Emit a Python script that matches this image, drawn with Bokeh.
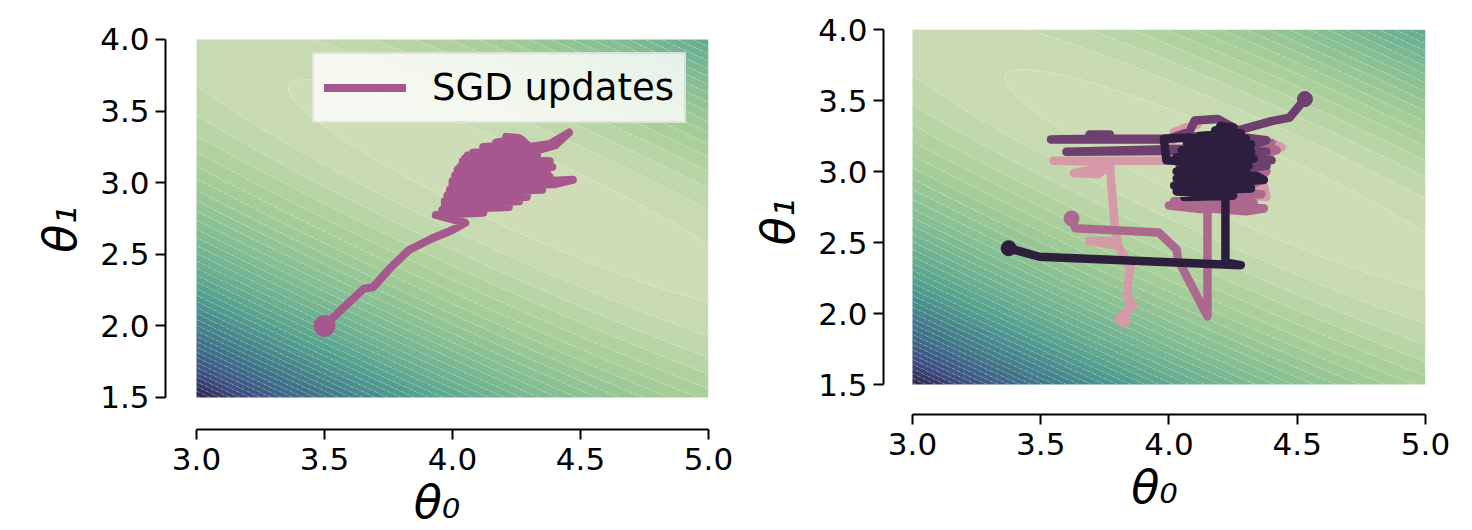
import numpy as np
from bokeh.plotting import figure
from bokeh.layouts import row
from bokeh.models import Range1d, PrintfTickFormatter
from bokeh.embed import file_html
from bokeh.resources import INLINE

# ---------------- loss surface (MSE of a linear regression) ----------------
theta0_opt = 4.30
theta1_opt = 2.92
mean_x = 1.09
mean_x2 = 1.385
noise_var = 1.0
theta0_lim = [3.0, 5.0]
theta1_lim = [1.5, 4.0]
n_levels = 40
first_level = 0.126

# colormap anchors (position in [0,1] -> colour), light = low loss
cmap_pos = [0.00, 0.03, 0.13, 0.25, 0.43, 0.50, 0.62, 0.75, 0.87, 1.00]
cmap_colors = ["#d0deb8", "#c6dab0", "#a9cf99", "#8cc293", "#63ab90",
               "#54a08f", "#45868c", "#3f6a88", "#3d4d82", "#2e2046"]

x_ticks = [3.0, 3.5, 4.0, 4.5, 5.0]
y_ticks = [1.5, 2.0, 2.5, 3.0, 3.5, 4.0]

# ---------------- left panel: one SGD run ----------------
sgd_theta0 = [3.50, 3.57, 3.654, 3.69, 3.76, 3.83, 3.92, 4.00, 4.05,
              3.935, 4.12, 3.96, 4.22, 3.97, 4.26, 3.98, 4.29, 3.99, 4.35, 4.00,
              4.40, 4.47, 4.36, 4.00, 4.38, 4.01, 4.37, 4.02, 4.39, 4.04, 4.38,
              4.05, 4.33, 4.08, 4.30, 4.12, 4.28, 4.17, 4.26, 4.21, 4.27, 4.30,
              4.38, 4.455, 4.40, 4.32,
              4.06, 4.32, 4.04, 4.35, 4.03, 4.33, 4.02, 4.30, 4.01, 4.33, 4.00,
              4.30, 3.99, 4.25, 3.98, 4.22, 3.97, 4.15, 4.10, 4.20, 4.15]
sgd_theta1 = [2.00, 2.12, 2.26, 2.27, 2.41, 2.53, 2.61, 2.67, 2.72,
              2.775, 2.79, 2.81, 2.83, 2.85, 2.87, 2.89, 2.90, 2.93, 2.95, 2.97,
              2.99, 3.02, 3.01, 3.01, 3.04, 3.05, 3.07, 3.09, 3.11, 3.13, 3.15,
              3.17, 3.19, 3.21, 3.23, 3.25, 3.27, 3.28, 3.31, 3.32, 3.30, 3.25,
              3.27, 3.35, 3.26, 3.22,
              3.19, 3.16, 3.15, 3.12, 3.11, 3.08, 3.07, 3.03, 3.03, 2.98, 2.99,
              2.94, 2.95, 2.91, 2.91, 2.87, 2.87, 2.84, 2.95, 3.05, 3.10]

# ---------------- right panel: four SGD runs ----------------
pink_theta0 = [3.82, 3.84, 3.86, 3.84, 3.84, 3.85, 3.82, 3.80, 3.69, 3.80, 3.79,
               3.78, 3.77, 3.63, 3.72, 3.77, 3.70, 3.55, 4.00,
               4.02, 4.11, 4.05, 4.10, 4.40, 4.44, 4.20, 4.03, 4.06, 4.37, 4.38,
               4.15, 4.30, 4.15]
pink_theta1 = [1.96, 2.03, 2.06, 2.10, 2.22, 2.32, 2.42, 2.48, 2.51, 2.51, 2.60,
               2.80, 3.04, 2.99, 2.98, 3.04, 3.07, 3.075, 3.075,
               3.28, 3.33, 3.30, 3.22, 3.20, 3.17, 3.14, 3.00, 2.93, 2.90, 2.82,
               2.86, 3.00, 3.05]

mauve_theta0 = [3.62, 3.635, 3.96, 4.03, 4.035, 4.15, 4.15,
                4.00, 4.30, 4.37, 4.02, 4.33, 4.10, 4.36, 4.06, 4.34, 4.38, 4.25,
                4.42, 4.30, 4.40, 4.25, 4.20]
mauve_theta1 = [2.67, 2.60, 2.57, 2.45, 2.38, 1.98, 2.73,
                2.76, 2.72, 2.74, 2.79, 2.78, 2.82, 2.84, 2.88, 2.92, 3.00, 3.05,
                3.15, 3.19, 3.20, 3.10, 2.90]

purple_theta0 = [4.53, 4.47, 4.40, 4.27, 4.19, 4.10, 4.08, 3.99, 3.54, 3.70, 3.69,
                 3.77, 3.75, 4.00, 4.20, 4.38, 4.30, 3.60, 4.00, 4.38, 4.10, 4.40,
                 4.12, 4.38, 4.20]
purple_theta1 = [3.51, 3.38, 3.355, 3.29, 3.37, 3.36, 3.28, 3.225, 3.225, 3.23, 3.26,
                 3.26, 3.23, 3.23, 3.26, 3.22, 3.17, 3.14, 3.145, 3.14, 3.10, 3.08,
                 3.04, 3.04, 3.00]

dark_theta0 = [3.375, 3.495, 4.28, 4.22, 4.22,
               4.06, 4.25, 4.03, 4.32, 4.02, 4.37, 4.34, 4.03, 4.30, 4.03, 4.31,
               4.04, 4.33, 4.03, 4.32, 4.05, 4.32, 4.07, 4.30, 4.12, 4.28, 4.18,
               4.25, 4.20, 4.22,
               4.08, 3.98, 3.99, 4.06, 4.08,
               4.30, 4.06, 4.31, 4.05, 4.30, 4.05, 4.28, 4.08, 4.22]
dark_theta1 = [2.46, 2.40, 2.34, 2.36, 2.85,
               2.82, 2.83, 2.86, 2.88, 2.90, 2.94, 2.97, 2.95, 3.00, 3.00, 3.04,
               3.05, 3.09, 3.10, 3.14, 3.15, 3.19, 3.20, 3.23, 3.25, 3.27, 3.29,
               3.31, 3.32, 3.20,
               3.24, 3.23, 3.08, 3.07, 3.22,
               3.17, 3.12, 3.07, 3.02, 2.97, 2.92, 2.90, 2.86, 2.95]

sgd_color = "#a5578e"
run_colors = ["#d699a8", "#ac688e", "#6e3f6f", "#2d1e3e"]

# ---------------- helpers ----------------
def hex2rgb(h):
    return [int(h[i:i + 2], 16) for i in (1, 3, 5)]


def color_at(t):
    pos = np.array(cmap_pos)
    cols = np.array([hex2rgb(c) for c in cmap_colors], dtype=float)
    r, g, b = (int(round(np.interp(t, pos, cols[:, k]))) for k in range(3))
    return "#%02x%02x%02x" % (r, g, b)


g0 = np.linspace(theta0_lim[0], theta0_lim[1], 241)
g1 = np.linspace(theta1_lim[0], theta1_lim[1], 201)
T0, T1 = np.meshgrid(g0, g1)
d0 = T0 - theta0_opt
d1 = T1 - theta1_opt
Z = d0 ** 2 + 2 * mean_x * d0 * d1 + mean_x2 * d1 ** 2 + noise_var
zmin, zmax = Z.min(), Z.max()
step = (zmax - zmin) / n_levels
inner = list(np.arange(zmin + first_level, zmax, step))
levels = [zmin] + inner + [zmax]
palette = [color_at(((a + b) / 2 - zmin) / (zmax - zmin))
           for a, b in zip(levels[:-1], levels[1:])]


def make_fig(frame_w, frame_h, off_x, off_y, top_pad, mb_left, mb_right, mb_top, mb_bottom):
    p = figure(frame_width=frame_w, frame_height=frame_h,
               x_range=Range1d(theta0_lim[0] - off_x, theta0_lim[1]),
               y_range=Range1d(theta1_lim[0] - off_y, theta1_lim[1] + top_pad),
               output_backend="svg", toolbar_location=None,
               min_border_left=mb_left, min_border_right=mb_right,
               min_border_top=mb_top, min_border_bottom=mb_bottom)
    p.xgrid.visible = False
    p.ygrid.visible = False
    p.outline_line_color = None
    p.background_fill_color = "white"
    p.border_fill_color = "white"
    p.contour(T0, T1, Z, levels, fill_color=palette, line_color="white",
              line_alpha=0.35, line_width=0.7, line_dash="3 3")
    p.xaxis.bounds = (theta0_lim[0], theta0_lim[1])
    p.yaxis.bounds = (theta1_lim[0], theta1_lim[1])
    p.xaxis.ticker = x_ticks
    p.yaxis.ticker = y_ticks
    for ax in (p.xaxis[0], p.yaxis[0]):
        ax.formatter = PrintfTickFormatter(format="%.1f")
        ax.axis_line_width = 2
        ax.axis_line_color = "black"
        ax.major_tick_line_width = 2
        ax.major_tick_line_color = "black"
        ax.major_tick_out = 10
        ax.major_tick_in = 0
        ax.minor_tick_line_color = None
        ax.major_label_text_font = "DejaVu Sans"
        ax.major_label_text_font_size = "31px"
        ax.major_label_text_color = "black"
        ax.axis_label_text_font = "DejaVu Sans"
        ax.axis_label_text_font_style = "italic"
        ax.axis_label_text_font_size = "46px"
        ax.axis_label_text_color = "black"
    p.xaxis.major_label_standoff = 8
    p.yaxis.major_label_standoff = 6
    p.xaxis.axis_label = "θ₀"
    p.yaxis.axis_label = "θ₁"
    p.xaxis.axis_label_standoff = 2
    p.yaxis.axis_label_standoff = 10
    return p


# ---------------- left figure ----------------
p1 = make_fig(543, 400, 0.121, 0.2235, 0.0698, 165, 30, 29, 92)
p1.line(sgd_theta0, sgd_theta1, line_color=sgd_color, line_width=8,
        line_cap="round", line_join="round", legend_label="SGD updates")
p1.scatter([sgd_theta0[0]], [sgd_theta1[0]], size=21, color=sgd_color)
lg = p1.legend[0]
lg.location = (147, 306)
lg.padding = 10
lg.spacing = 0
lg.glyph_width = 82
lg.glyph_height = 47
lg.label_height = 47
lg.label_standoff = 26
lg.label_text_font = "DejaVu Sans"
lg.label_text_font_size = "37px"
lg.label_text_color = "black"
lg.background_fill_color = "white"
lg.background_fill_alpha = 0.8
lg.border_line_color = "#cccccc"
lg.border_line_width = 2

# ---------------- right figure ----------------
p2 = make_fig(542, 385, 0.113, 0.211, 0.0, 145, 38, 29, 107)
runs = [(pink_theta0, pink_theta1), (mauve_theta0, mauve_theta1),
        (purple_theta0, purple_theta1), (dark_theta0, dark_theta1)]
for (t0, t1), col in zip(runs, run_colors):
    p2.line(t0, t1, line_color=col, line_width=8.5, line_cap="round", line_join="round")
    p2.scatter([t0[0]], [t1[0]], size=15, color=col)

layout = row(p1, p2)
open("out.html", "w").write(file_html(layout, INLINE))
